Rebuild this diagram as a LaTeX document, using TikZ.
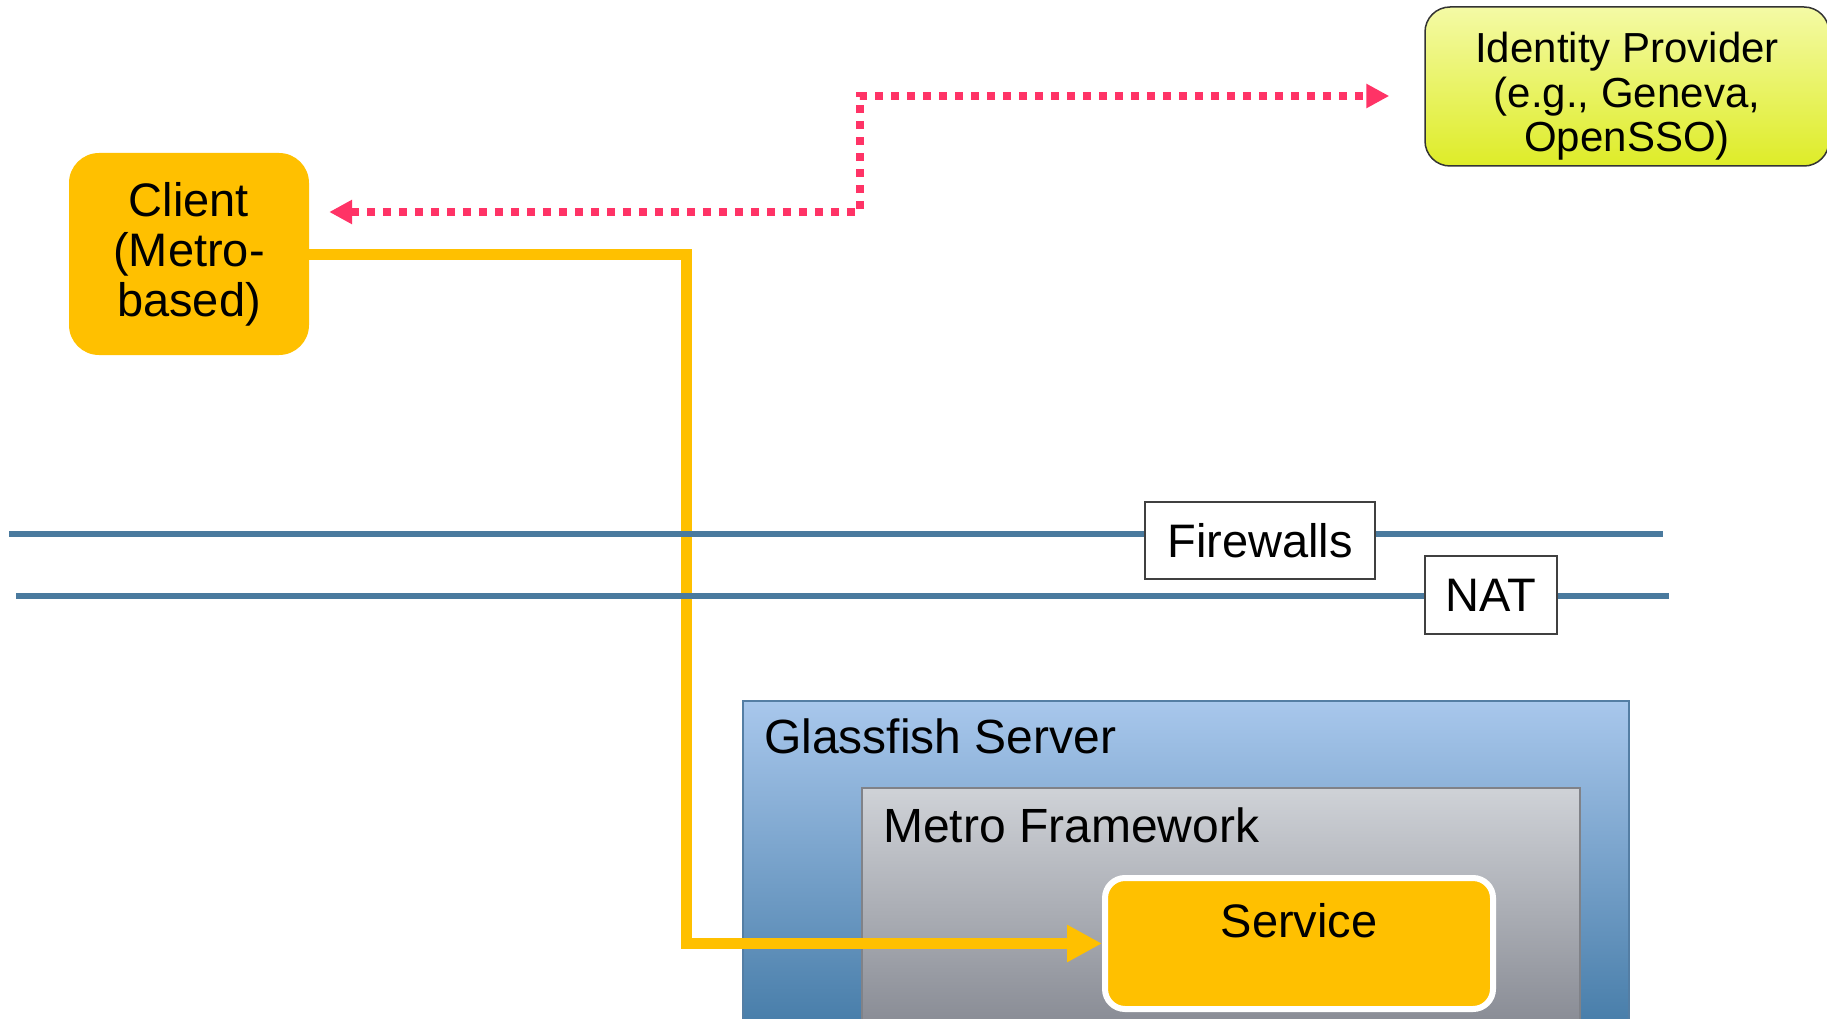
\documentclass[tikz,border=0pt]{standalone}
\usepackage{fontspec}
\setmainfont{Liberation Sans}
\usetikzlibrary{arrows.meta}
\definecolor{gold}{RGB}{255,192,0}
\definecolor{pinkc}{RGB}{255,51,102}
\definecolor{fwblue}{RGB}{74,122,158}
\definecolor{idtop}{RGB}{244,250,165}
\definecolor{idbot}{RGB}{222,236,40}
\definecolor{gftop}{RGB}{168,199,236}
\definecolor{gfbot}{RGB}{70,124,168}
\definecolor{gfedge}{RGB}{84,126,164}
\definecolor{mftop}{RGB}{207,210,215}
\definecolor{mfbot}{RGB}{135,138,147}
\definecolor{mfedge}{RGB}{128,130,136}
\begin{document}
\begin{tikzpicture}[x=1pt,y=-1pt,
  txt/.style={font=\fontsize{47}{50}\selectfont, inner sep=0pt},
  bigtxt/.style={font=\fontsize{48}{50}\selectfont, inner sep=0pt},
  clientbox/.style={fill=gold, rounded corners=30pt, minimum width=240pt, minimum height=202pt, align=center, inner sep=0pt, font=\fontsize{47}{50}\selectfont},
  idbox/.style={draw=black!80, line width=1.5pt, top color=idtop, bottom color=idbot, rounded corners=25pt, minimum width=404pt, minimum height=159pt, inner sep=0pt},
  idtext/.style={align=center, font=\fontsize{42}{44.5}\selectfont, inner sep=0pt},
  labelbox/.style={draw=black!75, line width=1.3pt, fill=white, inner sep=0pt, font=\fontsize{47}{50}\selectfont},
  servicebox/.style={draw=white, line width=6pt, fill=gold, rounded corners=20pt, minimum width=388pt, minimum height=131pt, inner sep=0pt},
  fwline/.style={draw=fwblue, line width=6pt},
  goldarrow/.style={draw=gold, line width=11pt, -{Triangle[length=35pt,width=35pt]}},
  pinkarrow/.style={draw=pinkc, line width=8pt, dash pattern=on 8pt off 8pt, {Triangle[length=23pt,width=23pt]}-{Triangle[length=23pt,width=23pt]}},
]
\path[use as bounding box] (0,0) rectangle (1827,1019);
\clip (0,0) rectangle (1827,1019);

% containers
\shade[top color=gftop, bottom color=gfbot] (743,701) rectangle (1629,1030);
\draw[gfedge, line width=1.5pt] (743,1030) -- (743,701) -- (1629,701) -- (1629,1030);
\shade[top color=mftop, bottom color=mfbot] (862,788) rectangle (1580,1030);
\draw[mfedge, line width=2pt] (862,1030) -- (862,788) -- (1580,788) -- (1580,1030);
\node[bigtxt, anchor=base west] (gftext) at (764,753) {Glassfish Server};
\node[bigtxt, anchor=base west] (mftext) at (883,842) {Metro Framework};

% nodes
\node[servicebox] (service) at (1299,943.5) {};
\node[txt, anchor=base] (svtext) at (1299,937) {Service};
\node[clientbox] (client) at (189,254) {Client\\(Metro-\\based)};
\node[idbox] (idp) at (1627,86.5) {};
\node[idtext] (idptext) at (1627,96.5) {Identity Provider\\(e.g., Geneva,\\OpenSSO)};

% connectors
\coordinate (ybend) at (686,943.5);
\draw[goldarrow] (client.east) -| (ybend) -- (service.west);
\coordinate (pbend) at (860,96);
\draw[pinkarrow, shorten >=35pt] ([xshift=20pt,yshift=42pt]client.east) -| (pbend) -- (idp.west |- pbend);

% firewall / NAT lines
\coordinate (fwL) at (9,534);
\coordinate (fwR) at (1663,534);
\coordinate (natL) at (16,596);
\coordinate (natR) at (1669,596);
\draw[fwline] (fwL) -- (fwR);
\draw[fwline] (natL) -- (natR);
\node[labelbox, minimum width=230pt, minimum height=77pt] (fw) at (1260,540.5) {Firewalls};
\node[labelbox, minimum width=132pt, minimum height=78pt] (nat) at (1491,595) {NAT};
\end{tikzpicture}
\end{document}
